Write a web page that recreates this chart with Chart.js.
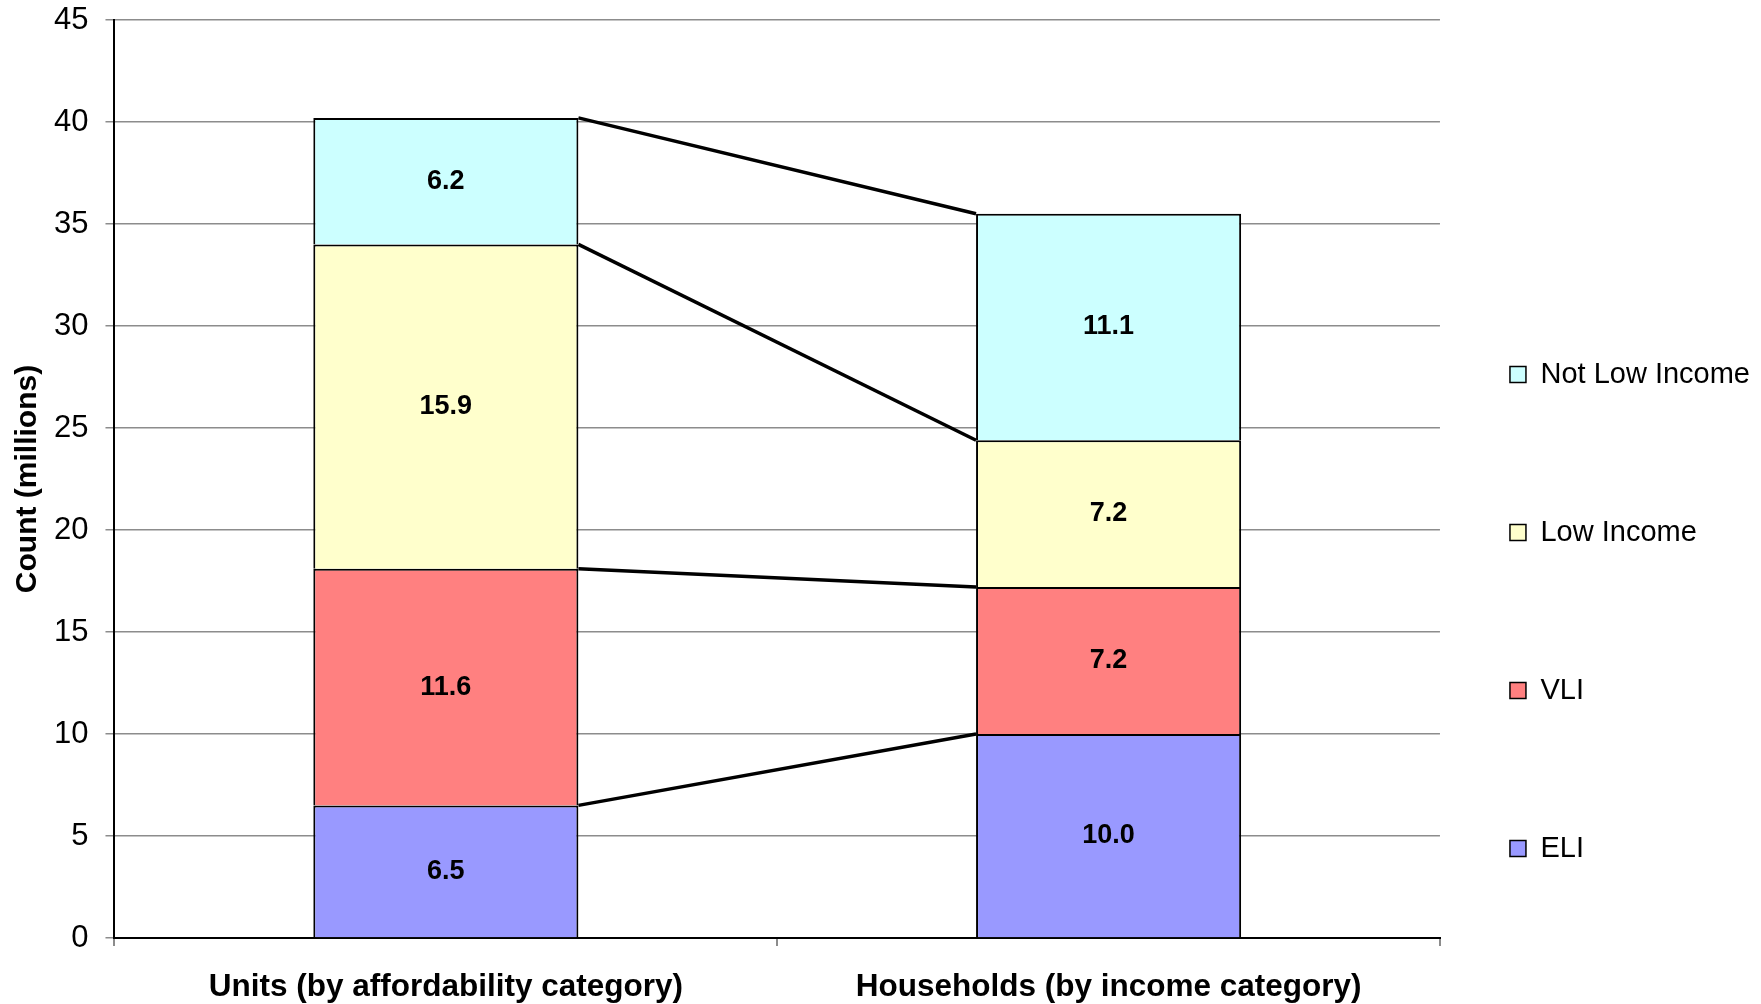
<!DOCTYPE html>
<html>
<head>
<meta charset="utf-8">
<script src="https://cdn.jsdelivr.net/npm/chart.js@4.4.1/dist/chart.umd.min.js"></script>
<style>
  html, body { margin: 0; padding: 0; background: #fff; }
  #wrap { width: 1761px; height: 1004px; }
</style>
</head>
<body>
<div id="wrap"><canvas id="chart"></canvas></div>
<script>
const categories = ['Units (by affordability category)', 'Households (by income category)'];
const eli = [6.5, 10.0];
const vli = [11.6, 7.2];
const lowIncome = [15.9, 7.2];
const notLowIncome = [6.2, 11.1];
const yTicks = [0, 5, 10, 15, 20, 25, 30, 35, 40, 45];

const FONT = "'Liberation Sans', Arial, sans-serif";

// value labels in the middle of each segment
const valueLabels = {
  id: 'valueLabels',
  afterDatasetsDraw(chart) {
    const ctx = chart.ctx;
    ctx.save();
    ctx.font = `bold 27px ${FONT}`;
    ctx.fillStyle = '#000';
    ctx.textAlign = 'center';
    ctx.textBaseline = 'middle';
    chart.data.datasets.forEach((ds, i) => {
      chart.getDatasetMeta(i).data.forEach((bar, j) => {
        ctx.fillText(ds.data[j].toFixed(1), bar.x, (bar.y + bar.base) / 2);
      });
    });
    ctx.restore();
  }
};

// lines joining the top of each segment across the two bars
const connectors = {
  id: 'connectors',
  afterDatasetsDraw(chart) {
    const ctx = chart.ctx;
    ctx.save();
    ctx.strokeStyle = '#000';
    ctx.lineWidth = 3.5;
    chart.data.datasets.forEach((ds, i) => {
      const bars = chart.getDatasetMeta(i).data;
      const a = bars[0], b = bars[1];
      ctx.beginPath();
      ctx.moveTo(a.x + a.width / 2, a.y);
      ctx.lineTo(b.x - b.width / 2, b.y);
      ctx.stroke();
    });
    ctx.restore();
  }
};

const barStyle = { borderColor: '#000', borderWidth: { top: 2, left: 2, right: 2, bottom: 0 },
  borderSkipped: false, barPercentage: 0.4, categoryPercentage: 1.0 };

new Chart(document.getElementById('chart'), {
  type: 'bar',
  data: {
    labels: categories,
    datasets: [
      { label: 'ELI', data: eli, backgroundColor: '#9999FF', ...barStyle },
      { label: 'VLI', data: vli, backgroundColor: '#FF8080', ...barStyle },
      { label: 'Low Income', data: lowIncome, backgroundColor: '#FFFFCC', ...barStyle },
      { label: 'Not Low Income', data: notLowIncome, backgroundColor: '#CCFFFF', ...barStyle }
    ]
  },
  options: {
    responsive: true,
    maintainAspectRatio: false,
    animation: false,
    layout: { padding: { left: 7, top: 20, right: 1, bottom: 0 } },
    scales: {
      x: {
        stacked: true,
        afterFit: (scale) => { scale.height = 66; },
        grid: {
          offset: true,
          color: (c) => c.index === 2 ? '#8c8c8c' : 'rgba(0,0,0,0)',
          lineWidth: 2,
          tickColor: '#8c8c8c',
          tickLength: 8
        },
        border: { color: '#000', width: 2 },
        ticks: {
          color: '#000',
          padding: 26,
          font: { family: FONT, size: 31.5, weight: 'bold', lineHeight: 1.0 }
        }
      },
      y: {
        stacked: true,
        min: 0,
        max: 45,
        afterBuildTicks: (axis) => { axis.ticks = yTicks.map(v => ({ value: v })); },
        grid: { color: '#8c8c8c', lineWidth: 1.5, tickColor: '#8c8c8c', tickLength: 9 },
        border: { color: '#000', width: 2 },
        ticks: {
          color: '#000',
          padding: 17,
          font: { family: FONT, size: 31, lineHeight: 0.1 }
        },
        title: {
          display: true,
          text: 'Count (millions)',
          color: '#000',
          font: { family: FONT, size: 30, weight: 'bold', lineHeight: 0.6 },
          padding: { top: 12, bottom: 0 }
        }
      }
    },
    plugins: {
      tooltip: { enabled: false },
      legend: {
        position: 'right',
        align: 'start',
        reverse: true,
        title: { display: true, text: '', padding: 0, font: { size: 10, lineHeight: '270px' } },
        labels: {
          color: '#000',
          boxWidth: 16,
          boxHeight: 16,
          padding: 70,
          font: { family: FONT, size: 29, lineHeight: '88px' },
          generateLabels(chart) {
            const items = Chart.defaults.plugins.legend.labels.generateLabels(chart);
            // array text makes the row use the font lineHeight for its spacing
            return items.map(it => ({ ...it, text: it.text === 'ELI' ? it.text : [it.text] }));
          }
        }
      }
    }
  },
  plugins: [valueLabels, connectors]
});
</script>
</body>
</html>
